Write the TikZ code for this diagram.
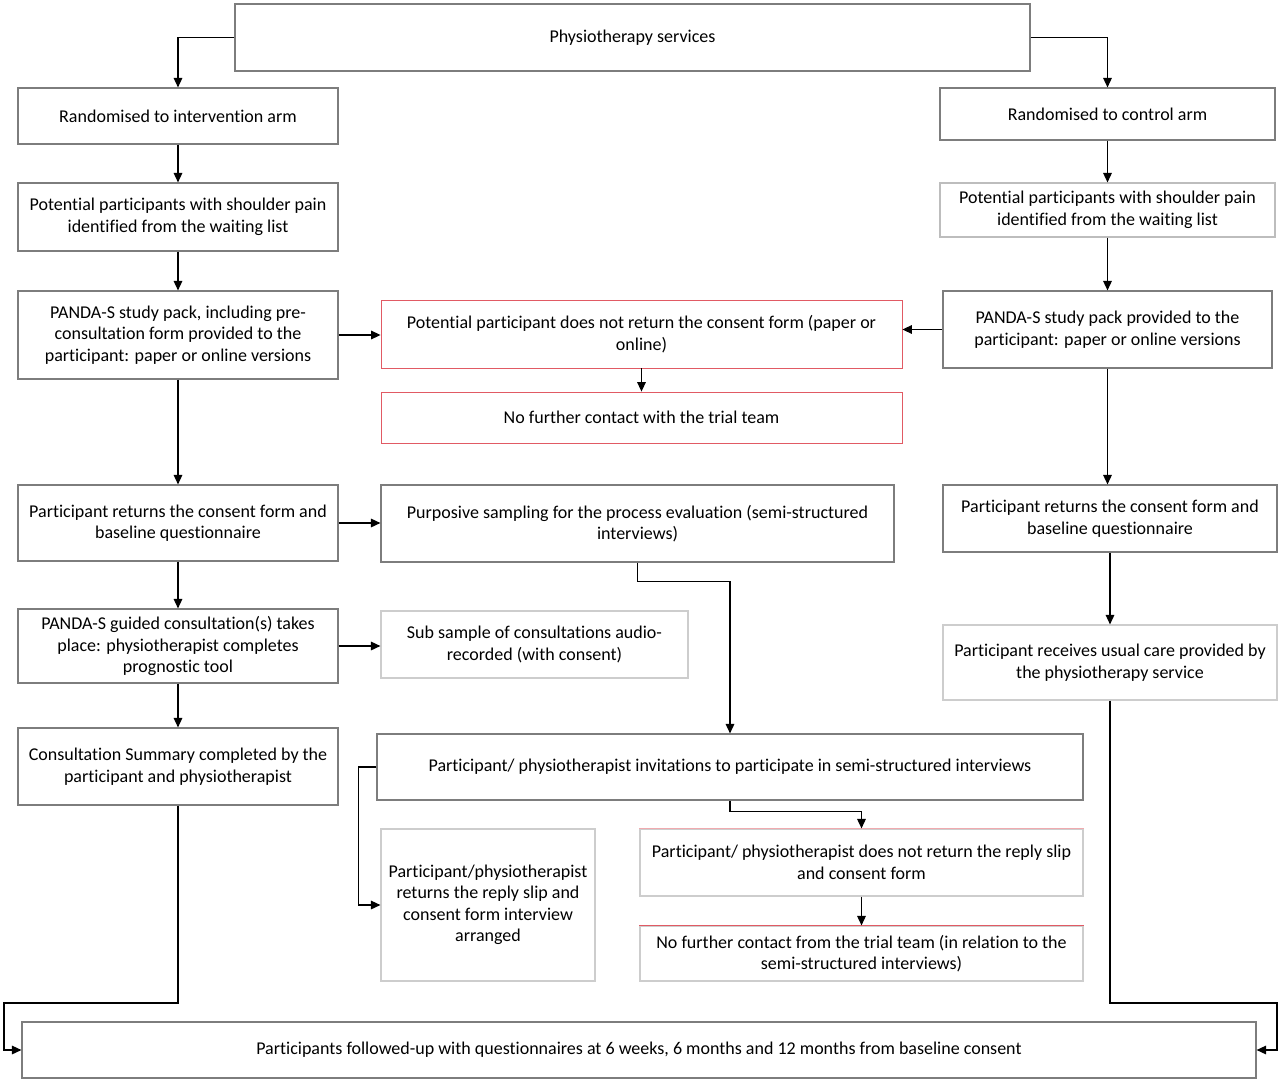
\documentclass[tikz,border=0pt]{standalone}
\usepackage{fontspec}
\setmainfont{Carlito}[Ligatures=NoCommon]
\usetikzlibrary{arrows.meta,calc}
\definecolor{bord}{RGB}{125,125,125}
\definecolor{lbord}{RGB}{205,205,205}
\definecolor{rbord}{RGB}{225,90,100}
\definecolor{lrbord}{RGB}{240,170,175}
\tikzset{
  box/.style={draw=bord, line width=1.1pt, fill=white, align=center, inner sep=0pt, font=\fontsize{18}{21.5}\selectfont},
  lbox/.style={box, draw=lbord},
  rbox/.style={box, draw=rbord, line width=0.8pt},
  arr/.style={line width=1.5pt, -{Triangle[length=9.5pt,width=8.5pt]}},
}
\begin{document}
\begin{tikzpicture}[x=1pt,y=-1pt]
\useasboundingbox (0,0) rectangle (1280,1084);
% nodes
\node[box, minimum width=795pt, minimum height=67pt] (n1) at (632.5,37.5) {Physiotherapy services};
\node[box, minimum width=320pt, minimum height=56pt] (n2) at (178,116) {Randomised to intervention arm};
\node[box, minimum width=320pt, minimum height=68pt] (n3) at (178,217) {Potential participants with shoulder pain\\identified from the waiting list};
\node[box, minimum width=320pt, minimum height=88pt] (n4) at (178,335) {PANDA-S study pack, including pre-\\consultation form provided to the\\participant: paper or online versions};
\node[rbox, minimum width=521pt, minimum height=68pt] (n5) at (641.5,334) {Potential participant does not return the consent form (paper or\\online)};
\node[rbox, minimum width=521pt, minimum height=51pt] (n6) at (641.5,417.5) {No further contact with the trial team};
\node[box, minimum width=335pt, minimum height=52pt] (n7) at (1107.5,114) {Randomised to control arm};
\node[box, draw=lbord!80!bord, minimum width=335pt, minimum height=54pt] (n8) at (1107.5,210) {Potential participants with shoulder pain\\identified from the waiting list};
\node[box, minimum width=329pt, minimum height=77pt] (n9) at (1107.5,329.5) {PANDA-S study pack provided to the\\participant: paper or online versions};
\node[box, minimum width=320pt, minimum height=76pt] (n10) at (178,523) {Participant returns the consent form and\\baseline questionnaire};
\node[box, minimum width=513pt, minimum height=77pt] (n11) at (637.5,523.5) {Purposive sampling for the process evaluation (semi-structured\\interviews)};
\node[box, minimum width=334pt, minimum height=67pt] (n12) at (1110,518.5) {Participant returns the consent form and\\baseline questionnaire};
\node[box, minimum width=320pt, minimum height=74pt] (n13) at (178,646) {PANDA-S guided consultation(s) takes\\place: physiotherapist completes\\prognostic tool};
\node[lbox, minimum width=307pt, minimum height=67pt] (n14) at (534.5,644.5) {Sub sample of consultations audio-\\recorded (with consent)};
\node[lbox, minimum width=334pt, minimum height=75pt] (n15) at (1110,662.5) {Participant receives usual care provided by\\the physiotherapy service};
\node[box, minimum width=320pt, minimum height=77pt] (n16) at (178,766.5) {Consultation Summary completed by the\\participant and physiotherapist};
\node[box, minimum width=706pt, minimum height=66pt] (n17) at (730,767) {Participant/ physiotherapist invitations to participate in semi-structured interviews};
\node[lbox, minimum width=214pt, minimum height=152pt] (n18) at (488,905) {Participant/physiotherapist\\returns the reply slip and\\consent form interview\\arranged};
\node[lbox, minimum width=443pt, minimum height=67pt] (n19) at (861.5,862.5) {Participant/ physiotherapist does not return the reply slip\\and consent form};
\node[lbox, minimum width=443pt, minimum height=55pt] (n20) at (861.5,953.5) {No further contact from the trial team (in relation to the\\semi-structured interviews)};
\node[box, minimum width=1234pt, minimum height=56pt] (n21) at (639,1050) {Participants followed-up with questionnaires at 6 weeks, 6 months and 12 months from baseline consent};
% red top lines
\draw[lrbord, line width=1pt] (n19.north west) -- (n19.north east);
\draw[rbord, line width=1.3pt] (n20.north west) -- (n20.north east);
% connectors
\draw[arr] (n1.west) -| (n2.north);
\draw[arr] (n1.east) -| (n7.north);
\draw[arr] (n2) -- (n3);
\draw[arr] (n3) -- (n4);
\draw[arr] (n4) -- (n10);
\draw[arr] (n4.east) -- (n4.east -| n5.west);
\draw[arr] (n9.west) -- (n9.west -| n5.east);
\draw[arr] (n5) -- (n6);
\draw[arr] (n7) -- (n8);
\draw[arr] (n8) -- (n9);
\draw[arr] (n9.south) -- (n9.south |- n12.north);
\draw[arr] (n12) -- (n15);
\draw[arr] (n10.east) -- (n10.east -| n11.west);
\draw[arr] (n10) -- (n13);
\draw[arr] (n13.east) -- (n13.east -| n14.west);
\draw[arr] (n13) -- (n16);
\draw[arr] (n11.south) -- ++(0,19) -| (n17.north);
\draw[arr] (n17.south) -- ++(0,11) -| (n19.north);
\draw[arr] (n17.west) -- ++(-18,0) |- (n18.west);
\draw[arr] (n19) -- (n20);
\draw[arr] (n16.south) |- (4,1003) |- (n21.west);
\draw[arr] (n15.south) |- (1277,1003) |- (n21.east);
\end{tikzpicture}
\end{document}
